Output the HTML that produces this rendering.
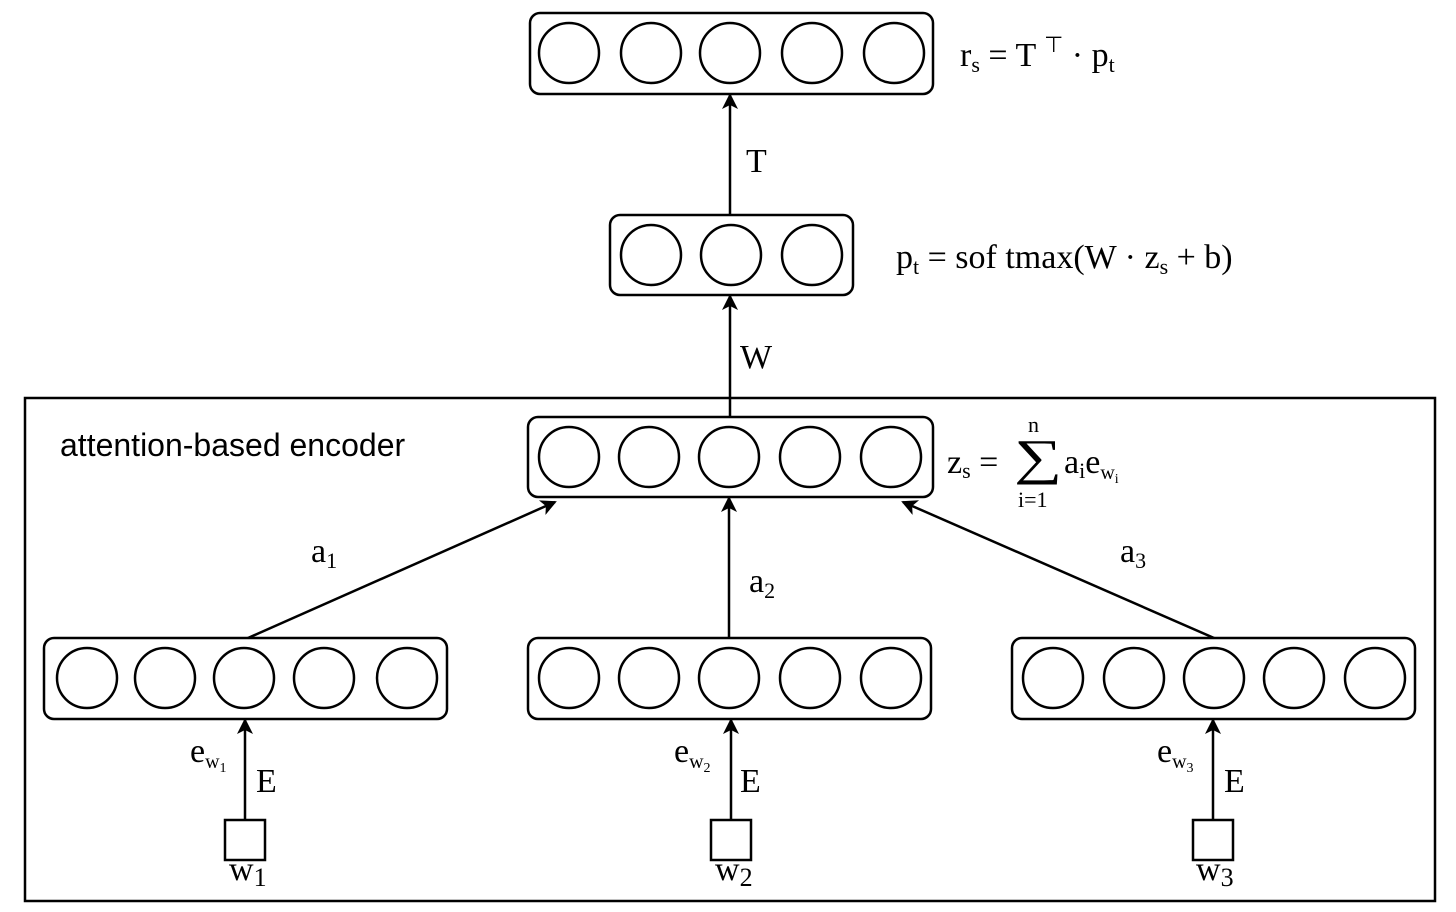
<!DOCTYPE html>
<html><head><style>body{margin:0;background:#fff}svg{display:block}</style></head><body>
<svg width="1456" height="912" viewBox="0 0 1456 912" xmlns="http://www.w3.org/2000/svg">
<defs><marker id="ah" markerWidth="16" markerHeight="18" refX="14" refY="9" orient="auto" markerUnits="userSpaceOnUse"><path d="M0,1 L16,9 L0,17 L4,9 Z" fill="#000"/></marker></defs>
<g fill="none" stroke="#000" stroke-width="2.5">
<rect x="25" y="398" width="1410" height="503"/>
<rect x="530" y="13" width="403" height="81" rx="10"/>
<ellipse cx="569" cy="53" rx="30" ry="30"/><ellipse cx="651" cy="53" rx="30" ry="30"/><ellipse cx="730" cy="53" rx="30" ry="30"/><ellipse cx="812" cy="53" rx="30" ry="30"/><ellipse cx="894" cy="53" rx="30" ry="30"/>
<rect x="610" y="215" width="243" height="80" rx="10"/>
<ellipse cx="651" cy="255" rx="30" ry="30"/><ellipse cx="731" cy="255" rx="30" ry="30"/><ellipse cx="812" cy="255" rx="30" ry="30"/>
<rect x="528" y="417" width="405" height="80" rx="10"/>
<ellipse cx="569" cy="457" rx="30" ry="30"/><ellipse cx="649" cy="457" rx="30" ry="30"/><ellipse cx="729" cy="457" rx="30" ry="30"/><ellipse cx="810" cy="457" rx="30" ry="30"/><ellipse cx="891" cy="457" rx="30" ry="30"/>
<rect x="44" y="638" width="403" height="81" rx="10"/>
<ellipse cx="87" cy="678" rx="30" ry="30"/><ellipse cx="165" cy="678" rx="30" ry="30"/><ellipse cx="244" cy="678" rx="30" ry="30"/><ellipse cx="324" cy="678" rx="30" ry="30"/><ellipse cx="407" cy="678" rx="30" ry="30"/>
<rect x="528" y="638" width="403" height="81" rx="10"/>
<ellipse cx="569" cy="678" rx="30" ry="30"/><ellipse cx="649" cy="678" rx="30" ry="30"/><ellipse cx="729" cy="678" rx="30" ry="30"/><ellipse cx="810" cy="678" rx="30" ry="30"/><ellipse cx="891" cy="678" rx="30" ry="30"/>
<rect x="1012" y="638" width="403" height="81" rx="10"/>
<ellipse cx="1053" cy="678" rx="30" ry="30"/><ellipse cx="1134" cy="678" rx="30" ry="30"/><ellipse cx="1214" cy="678" rx="30" ry="30"/><ellipse cx="1294" cy="678" rx="30" ry="30"/><ellipse cx="1375" cy="678" rx="30" ry="30"/>
<rect x="225" y="820" width="40" height="40"/><rect x="711" y="820" width="40" height="40"/><rect x="1193" y="820" width="40" height="40"/>
<line x1="730" y1="215" x2="730" y2="95" marker-end="url(#ah)"/>
<line x1="730" y1="417" x2="730" y2="296" marker-end="url(#ah)"/>
<line x1="729" y1="638" x2="729" y2="498" marker-end="url(#ah)"/>
<line x1="248" y1="638" x2="555" y2="502" marker-end="url(#ah)"/>
<line x1="1214" y1="638" x2="903" y2="502" marker-end="url(#ah)"/>
<line x1="245" y1="820" x2="245" y2="720" marker-end="url(#ah)"/>
<line x1="731" y1="820" x2="731" y2="720" marker-end="url(#ah)"/>
<line x1="1213" y1="820" x2="1213" y2="720" marker-end="url(#ah)"/>
</g>
<g font-family="Liberation Serif, serif" font-size="34" fill="#000">
<text x="960" y="66">r<tspan font-size="22" dy="6">s</tspan><tspan dy="-6"> = T </tspan><tspan font-size="22" dy="-14">⊤</tspan><tspan dy="14"> · p</tspan><tspan font-size="22" dy="6">t</tspan></text>
<text x="746" y="172">T</text>
<text x="896" y="268">p<tspan font-size="22" dy="6">t</tspan><tspan dy="-6"> = sof tmax(W · z</tspan><tspan font-size="22" dy="6">s</tspan><tspan dy="-6"> + b)</tspan></text>
<text x="740" y="368">W</text>
<text x="947" y="473">z<tspan font-size="22" dy="5">s</tspan><tspan dy="-5"> = </tspan></text>
<text transform="translate(1014,474) scale(1.35,1.0)" font-size="50">∑</text>
<text x="1028" y="432" font-size="22">n</text>
<text x="1018" y="507" font-size="22">i=1</text>
<text x="1064" y="473">a<tspan font-size="22" dy="5">i</tspan><tspan dy="-5">e</tspan><tspan font-size="20" dy="6">w</tspan><tspan font-size="14" dy="4">i</tspan></text>
<text x="311" y="562">a<tspan font-size="22" dy="6">1</tspan></text>
<text x="749" y="592">a<tspan font-size="22" dy="6">2</tspan></text>
<text x="1120" y="562">a<tspan font-size="22" dy="6">3</tspan></text>
<text x="190" y="762">e<tspan font-size="20" dy="6">w</tspan><tspan font-size="14" dy="4">1</tspan></text>
<text x="256" y="792">E</text>
<text x="674" y="762">e<tspan font-size="20" dy="6">w</tspan><tspan font-size="14" dy="4">2</tspan></text>
<text x="740" y="792">E</text>
<text x="1157" y="762">e<tspan font-size="20" dy="6">w</tspan><tspan font-size="14" dy="4">3</tspan></text>
<text x="1224" y="792">E</text>
<text x="229" y="880">w<tspan font-size="26" dy="6">1</tspan></text>
<text x="715" y="880">w<tspan font-size="26" dy="6">2</tspan></text>
<text x="1196" y="880">w<tspan font-size="26" dy="6">3</tspan></text>
</g>
<text x="60" y="456" font-family="Liberation Sans, sans-serif" font-size="32" fill="#000">attention-based encoder</text>
</svg>
</body></html>
